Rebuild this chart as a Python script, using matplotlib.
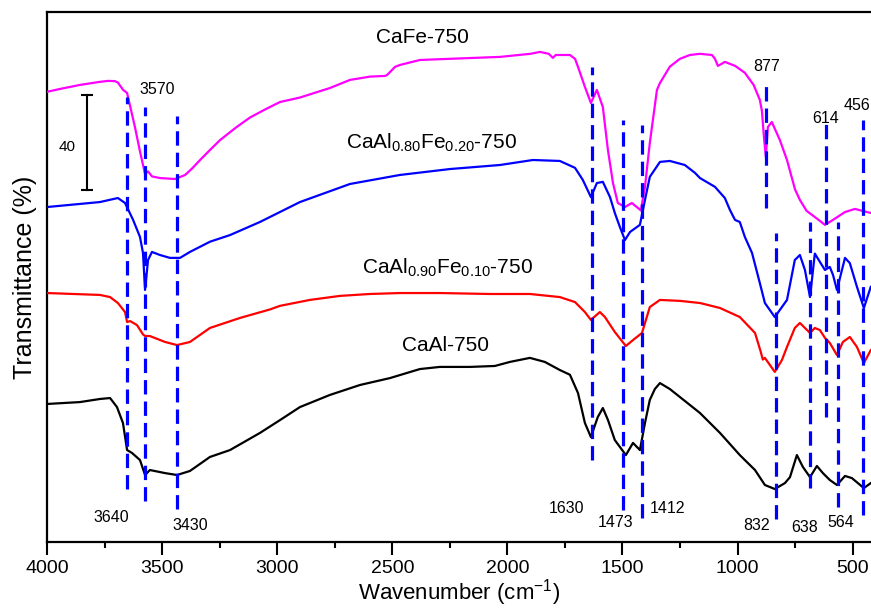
import matplotlib
matplotlib.use("Agg")
import matplotlib.pyplot as plt

plt.rcParams['font.family'] = ['Liberation Sans', 'DejaVu Sans']
plt.rcParams['mathtext.fontset'] = 'custom'
plt.rcParams['mathtext.rm'] = 'Liberation Sans'
plt.rcParams['mathtext.it'] = 'Liberation Sans:italic'

# ---------------- data (wavenumber cm-1, transmittance units) ----------------
cafe_wn = [4000, 3944, 3857, 3770, 3735, 3705, 3692, 3670, 3652, 3618, 3596, 3574, 3561,
           3544, 3509, 3444, 3400, 3370, 3335, 3290, 3248, 3180, 3118, 3050, 2988, 2901,
           2771, 2684, 2597, 2530, 2520, 2488, 2467, 2380, 2249, 2032, 1900, 1858, 1820,
           1802, 1790, 1772, 1728, 1706, 1693, 1663, 1637, 1611, 1585, 1563, 1541, 1520,
           1489, 1459, 1420, 1402, 1381, 1350, 1337, 1294, 1250, 1207, 1163, 1111, 1098,
           1085, 1055, 1010, 968, 930, 903, 894, 885, 877, 868, 851, 816, 785, 750, 729,
           700, 664, 620, 585, 533, 490, 421]
cafe_t = [189.1, 190.3, 192.0, 193.3, 193.7, 193.6, 193.0, 190.0, 188.6, 174.3, 164.0, 154.5,
          155.6, 153.5, 152.8, 152.4, 154.1, 156.8, 160.4, 164.8, 168.8, 174.0, 178.3, 181.8,
          184.8, 186.7, 190.7, 194.1, 195.5, 195.8, 196.4, 199.6, 200.4, 202.5, 203.0, 203.8,
          205.1, 205.9, 205.1, 203.4, 204.6, 204.6, 204.6, 203.0, 199.6, 191.2, 184.4, 189.9,
          182.7, 164.6, 150.7, 142.3, 140.6, 142.3, 139.2, 149.1, 167.6, 189.9, 192.8, 199.7,
          203.0, 204.6, 205.1, 204.6, 203.0, 200.0, 201.7, 200.0, 197.1, 192.0, 185.7, 181.1,
          170.0, 161.7, 174.3, 176.4, 168.8, 160.4, 148.0, 143.6, 139.0, 136.4, 133.1, 135.2,
          138.5, 139.8, 138.1]

al80_wn = [4000, 3770, 3692, 3661, 3626, 3596, 3583, 3574, 3561, 3544, 3509, 3466, 3422,
           3379, 3292, 3205, 3075, 2901, 2684, 2467, 2249, 2032, 1889, 1772, 1706, 1672,
           1637, 1611, 1585, 1554, 1533, 1511, 1489, 1467, 1424, 1402, 1381, 1337, 1294,
           1229, 1185, 1163, 1098, 1055, 1033, 1011, 990, 968, 937, 903, 881, 838, 807, 785,
           751, 729, 707, 685, 664, 642, 620, 599, 585, 568, 533, 512, 481, 451, 421]
al80_t = [140.6, 142.7, 144.4, 142.3, 135.2, 128.0, 121.3, 105.7, 118.3, 121.7, 120.4, 119.2,
          119.2, 121.7, 126.0, 128.8, 134.3, 142.7, 150.3, 154.1, 156.6, 158.3, 160.4, 160.0,
          157.1, 152.0, 144.8, 150.7, 151.2, 144.8, 138.1, 132.2, 126.7, 130.1, 133.1, 143.6,
          153.3, 159.6, 160.0, 158.3, 155.0, 152.8, 149.1, 144.4, 139.4, 135.2, 134.3, 128.0,
          121.3, 108.6, 100.2, 94.3, 98.5, 101.5, 118.3, 120.4, 114.1, 102.7, 121.0, 117.5,
          114.1, 115.4, 112.0, 105.7, 119.2, 117.0, 107.0, 98.1, 107.0]

al90_wn = [4000, 3770, 3726, 3692, 3661, 3652, 3639, 3609, 3583, 3574, 3553, 3487, 3435,
           3379, 3292, 3162, 3031, 2988, 2858, 2727, 2597, 2467, 2293, 2076, 1902, 1772,
           1706, 1663, 1637, 1598, 1576, 1533, 1485, 1454, 1415, 1381, 1337, 1250, 1163,
           1076, 990, 924, 900, 890, 881, 838, 807, 785, 751, 729, 685, 664, 642, 620, 599,
           568, 542, 512, 481, 451, 421]
al90_t = [104.4, 103.6, 102.7, 100.2, 96.4, 92.2, 92.6, 90.9, 87.0, 86.3, 86.3, 83.8, 82.5,
          83.8, 89.7, 93.9, 97.5, 99.0, 101.5, 103.2, 104.0, 104.4, 104.4, 104.0, 104.0,
          102.7, 100.6, 96.4, 93.1, 96.4, 94.3, 88.0, 82.1, 84.6, 87.6, 98.5, 101.5, 101.1,
          100.2, 98.1, 94.3, 87.6, 80.0, 76.4, 77.1, 71.2, 76.2, 81.7, 89.7, 91.8, 87.6,
          89.7, 88.8, 85.5, 83.4, 78.3, 83.8, 85.9, 81.7, 74.9, 80.4]

caal_wn = [4000, 3857, 3770, 3726, 3696, 3670, 3652, 3631, 3596, 3574, 3553, 3487, 3435,
           3379, 3292, 3205, 3075, 2988, 2901, 2771, 2640, 2510, 2380, 2293, 2162, 2054,
           1989, 1902, 1837, 1772, 1728, 1693, 1663, 1637, 1607, 1585, 1563, 1533, 1485,
           1454, 1424, 1402, 1381, 1359, 1337, 1294, 1163, 1076, 990, 924, 881, 838, 794,
           772, 742, 716, 685, 655, 629, 599, 568, 533, 503, 451, 421]
caal_t = [57.7, 58.5, 59.8, 60.2, 56.4, 49.7, 38.3, 37.1, 34.1, 27.8, 29.9, 28.6, 27.8, 29.5,
          35.4, 38.3, 45.5, 50.9, 56.4, 61.5, 65.7, 68.6, 72.4, 73.3, 73.3, 73.7, 75.4, 77.1,
          75.4, 72.0, 70.0, 62.3, 49.7, 43.8, 52.2, 56.0, 51.0, 42.5, 36.2, 41.3, 38.3, 49.7,
          59.4, 64.0, 66.5, 64.0, 53.9, 45.5, 36.2, 29.9, 23.6, 21.9, 24.4, 26.9, 36.2, 31.2,
          26.9, 31.6, 28.6, 25.7, 23.6, 27.4, 26.5, 22.3, 24.4]

# marker lines: position, top, bottom
line_pos = [3652, 3574, 3435, 1632, 1498, 1415, 877, 832, 685, 614, 564, 456]
line_top = [186.9, 182.7, 179.0, 199.6, 177.3, 175.2, 192.8, 129.7, 134.3, 176.8, 134.3, 177.3]
line_bot = [21.9, 16.8, 13.5, 34.1, 13.1, 9.7, 140.2, 9.3, 22.3, 52.2, 14.3, 10.9]

peak_labels = ['3570', '877', '614', '456', '3640', '3430', '1630', '1473', '1412',
               '832', '638', '564']
peak_lab_x = [3522, 872, 616, 481, 3722, 3379, 1745, 1528, 1302, 916, 707, 551]
peak_lab_y = [189.9, 199.6, 177.7, 183.2, 10.1, 6.7, 13.9, 8.0, 13.5, 6.7, 5.9, 8.0]

series_names = ['CaFe-750',
                r'CaAl$_{\mathregular{0.80}}$Fe$_{\mathregular{0.20}}$-750',
                r'CaAl$_{\mathregular{0.90}}$Fe$_{\mathregular{0.10}}$-750',
                'CaAl-750']
name_x = [2367, 2328, 2262, 2267]
name_y = [211.8, 167.6, 114.9, 82.5]

scale_x = 3826
scale_lo, scale_hi = 147.8, 187.8
scale_label = '40'

# ---------------- figure ----------------
fig = plt.figure(figsize=(8.71, 6.11), dpi=100)
ax = fig.add_axes([47 / 871, 69 / 611, 1 - 47 / 871, (542 - 12) / 611])

ax.plot(cafe_wn, cafe_t, color='#FF00FF', lw=1.6, zorder=3)
ax.plot(al80_wn, al80_t, color='#0000FF', lw=1.6, zorder=3)
ax.plot(al90_wn, al90_t, color='#FF0000', lw=1.6, zorder=3)
ax.plot(caal_wn, caal_t, color='black', lw=1.6, zorder=3)

ax.vlines(line_pos, line_bot, line_top, colors='#0000FF', lw=2.3,
          linestyles=(0, (4.5, 2.2)), zorder=4)

for s, x, y in zip(peak_labels, peak_lab_x, peak_lab_y):
    ax.text(x, y, s, ha='center', va='center', fontsize=11.5, color='black')

for s, x, y in zip(series_names, name_x, name_y):
    ax.text(x, y, s, ha='center', va='center', fontsize=15, color='black')

# scale bar
ax.plot([scale_x, scale_x], [scale_lo, scale_hi], color='black', lw=1.5)
ax.plot([scale_x, scale_x], [scale_lo, scale_hi], color='black', lw=0,
        marker='_', markersize=9, markeredgewidth=1.5)
ax.text(3913, (scale_lo + scale_hi) / 2 - 2, scale_label, ha='center', va='center',
        fontsize=11)

ax.set_xlim(4000, 420)
ax.set_ylim(-0.4, 222.7)
ax.set_xticks([4000, 3500, 3000, 2500, 2000, 1500, 1000, 500])
ax.set_xticks([3750, 3250, 2750, 2250, 1750, 1250, 750], minor=True)
ax.set_yticks([])
ax.tick_params(axis='x', which='major', direction='out', length=9, width=1.5,
               labelsize=14, pad=4)
ax.tick_params(axis='x', which='minor', direction='out', length=4.5, width=1.5)
for sp in ['left', 'top', 'bottom']:
    ax.spines[sp].set_linewidth(1.6)
ax.spines['right'].set_visible(False)

ax.set_xlabel(r'Wavenumber (cm$^{\mathregular{-1}}$)', fontsize=16, labelpad=0)
ax.set_ylabel('Transmittance (%)', fontsize=18, labelpad=7)

fig.savefig('out.png', dpi=100)
